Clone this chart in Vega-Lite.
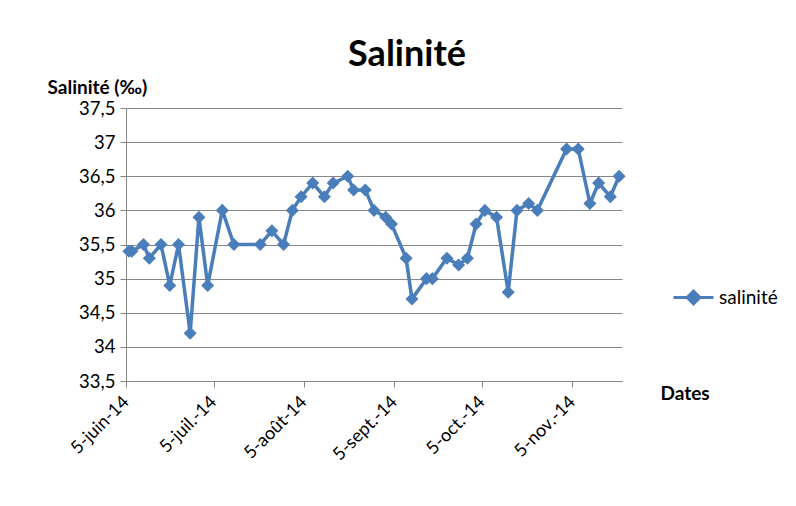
{
  "$schema": "https://vega.github.io/schema/vega-lite/v6.json",
  "width": 496,
  "height": 273,
  "autosize": {"type": "none"},
  "padding": {"left": 126, "top": 108, "right": 174, "bottom": 125},
  "background": "white",
  "config": {
    "font": "Lato",
    "view": {"stroke": null},
    "axis": {"labelFont": "Lato", "titleFont": "Lato", "labelColor": "#000000", "titleColor": "#000000"}
  },
  "title": {
    "text": "Salinité",
    "fontSize": 36,
    "fontWeight": "bold",
    "font": "Lato",
    "color": "#000000",
    "anchor": "middle",
    "frame": "group",
    "dx": 33,
    "offset": 4
  },
  "data": {
    "values": [
      {"date": "2014-06-06", "salinite": 35.4, "serie": "salinité"},
      {"date": "2014-06-07", "salinite": 35.4, "serie": "salinité"},
      {"date": "2014-06-11", "salinite": 35.5, "serie": "salinité"},
      {"date": "2014-06-13", "salinite": 35.3, "serie": "salinité"},
      {"date": "2014-06-17", "salinite": 35.5, "serie": "salinité"},
      {"date": "2014-06-20", "salinite": 34.9, "serie": "salinité"},
      {"date": "2014-06-23", "salinite": 35.5, "serie": "salinité"},
      {"date": "2014-06-27", "salinite": 34.2, "serie": "salinité"},
      {"date": "2014-06-30", "salinite": 35.9, "serie": "salinité"},
      {"date": "2014-07-03", "salinite": 34.9, "serie": "salinité"},
      {"date": "2014-07-08", "salinite": 36.0, "serie": "salinité"},
      {"date": "2014-07-12", "salinite": 35.5, "serie": "salinité"},
      {"date": "2014-07-21", "salinite": 35.5, "serie": "salinité"},
      {"date": "2014-07-25", "salinite": 35.7, "serie": "salinité"},
      {"date": "2014-07-29", "salinite": 35.5, "serie": "salinité"},
      {"date": "2014-08-01", "salinite": 36.0, "serie": "salinité"},
      {"date": "2014-08-04", "salinite": 36.2, "serie": "salinité"},
      {"date": "2014-08-08", "salinite": 36.4, "serie": "salinité"},
      {"date": "2014-08-12", "salinite": 36.2, "serie": "salinité"},
      {"date": "2014-08-15", "salinite": 36.4, "serie": "salinité"},
      {"date": "2014-08-20", "salinite": 36.5, "serie": "salinité"},
      {"date": "2014-08-22", "salinite": 36.3, "serie": "salinité"},
      {"date": "2014-08-26", "salinite": 36.3, "serie": "salinité"},
      {"date": "2014-08-29", "salinite": 36.0, "serie": "salinité"},
      {"date": "2014-09-02", "salinite": 35.9, "serie": "salinité"},
      {"date": "2014-09-04", "salinite": 35.8, "serie": "salinité"},
      {"date": "2014-09-09", "salinite": 35.3, "serie": "salinité"},
      {"date": "2014-09-11", "salinite": 34.7, "serie": "salinité"},
      {"date": "2014-09-16", "salinite": 35.0, "serie": "salinité"},
      {"date": "2014-09-18", "salinite": 35.0, "serie": "salinité"},
      {"date": "2014-09-23", "salinite": 35.3, "serie": "salinité"},
      {"date": "2014-09-27", "salinite": 35.2, "serie": "salinité"},
      {"date": "2014-09-30", "salinite": 35.3, "serie": "salinité"},
      {"date": "2014-10-03", "salinite": 35.8, "serie": "salinité"},
      {"date": "2014-10-06", "salinite": 36.0, "serie": "salinité"},
      {"date": "2014-10-10", "salinite": 35.9, "serie": "salinité"},
      {"date": "2014-10-14", "salinite": 34.8, "serie": "salinité"},
      {"date": "2014-10-17", "salinite": 36.0, "serie": "salinité"},
      {"date": "2014-10-21", "salinite": 36.1, "serie": "salinité"},
      {"date": "2014-10-24", "salinite": 36.0, "serie": "salinité"},
      {"date": "2014-11-03", "salinite": 36.9, "serie": "salinité"},
      {"date": "2014-11-07", "salinite": 36.9, "serie": "salinité"},
      {"date": "2014-11-11", "salinite": 36.1, "serie": "salinité"},
      {"date": "2014-11-14", "salinite": 36.4, "serie": "salinité"},
      {"date": "2014-11-18", "salinite": 36.2, "serie": "salinité"},
      {"date": "2014-11-21", "salinite": 36.5, "serie": "salinité"}
    ]
  },
  "encoding": {
    "x": {
      "field": "date",
      "type": "temporal",
      "scale": {
        "type": "utc",
        "domain": [
          {"year": 2014, "month": 6, "date": 5, "utc": true},
          {"year": 2014, "month": 11, "date": 22, "utc": true}
        ]
      },
      "axis": {
        "values": [
          {"year": 2014, "month": 6, "date": 5, "utc": true},
          {"year": 2014, "month": 7, "date": 5, "utc": true},
          {"year": 2014, "month": 8, "date": 5, "utc": true},
          {"year": 2014, "month": 9, "date": 5, "utc": true},
          {"year": 2014, "month": 10, "date": 5, "utc": true},
          {"year": 2014, "month": 11, "date": 5, "utc": true}
        ],
        "labelExpr": "'5-' + ['janv.','févr.','mars','avr.','mai','juin','juil.','août','sept.','oct.','nov.','déc.'][utcmonth(datum.value)] + '-14'",
        "labelAngle": -45,
        "labelAlign": "right",
        "labelBaseline": "middle",
        "labelFontSize": 18,
        "labelPadding": 12,
        "labelOverlap": false,
        "grid": false,
        "domainColor": "#868686",
        "tickColor": "#868686",
        "tickSize": 6,
        "title": "Dates",
        "titleFontSize": 19,
        "titleFontWeight": "bold",
        "titleAnchor": "start",
        "titleAlign": "left",
        "titleBaseline": "middle",
        "titleX": 534,
        "titleY": 12
      }
    },
    "y": {
      "field": "salinite",
      "type": "quantitative",
      "scale": {"domain": [33.5, 37.5], "zero": false, "nice": false},
      "axis": {
        "values": [33.5, 34, 34.5, 35, 35.5, 36, 36.5, 37, 37.5],
        "labelExpr": "replace(format(datum.value, '.1~f'), '.', ',')",
        "labelFontSize": 18.5,
        "labelPadding": 5,
        "grid": true,
        "gridColor": "#868686",
        "gridWidth": 1,
        "domainColor": "#868686",
        "tickColor": "#868686",
        "tickSize": 6,
        "title": "Salinité (‰)",
        "titleFontSize": 19,
        "titleFontWeight": "bold",
        "titleAngle": 0,
        "titleAlign": "left",
        "titleBaseline": "middle",
        "titleX": -79,
        "titleY": -21
      }
    },
    "color": {
      "field": "serie",
      "type": "nominal",
      "scale": {"range": ["#4A7EBB"]},
      "legend": {
        "title": null,
        "orient": "none",
        "legendX": 546,
        "legendY": 168,
        "padding": 0,
        "symbolType": "M-1,0H1M0,-0.32L0.32,0L0,0.32L-0.32,0Z",
        "symbolSize": 1600,
        "symbolStrokeWidth": 3,
        "labelFontSize": 19,
        "labelFont": "Lato",
        "labelColor": "#000000",
        "labelOffset": 4,
        "encode": {"symbols": {"update": {"fill": {"value": "#4A7EBB"}, "stroke": {"value": "#4A7EBB"}, "fillOpacity": {"value": 1}}}}
      }
    }
  },
  "mark": {
    "type": "line",
    "strokeWidth": 3.5,
    "point": {"shape": "diamond", "filled": true, "size": 170, "color": "#4A7EBB", "opacity": 1}
  }
}
